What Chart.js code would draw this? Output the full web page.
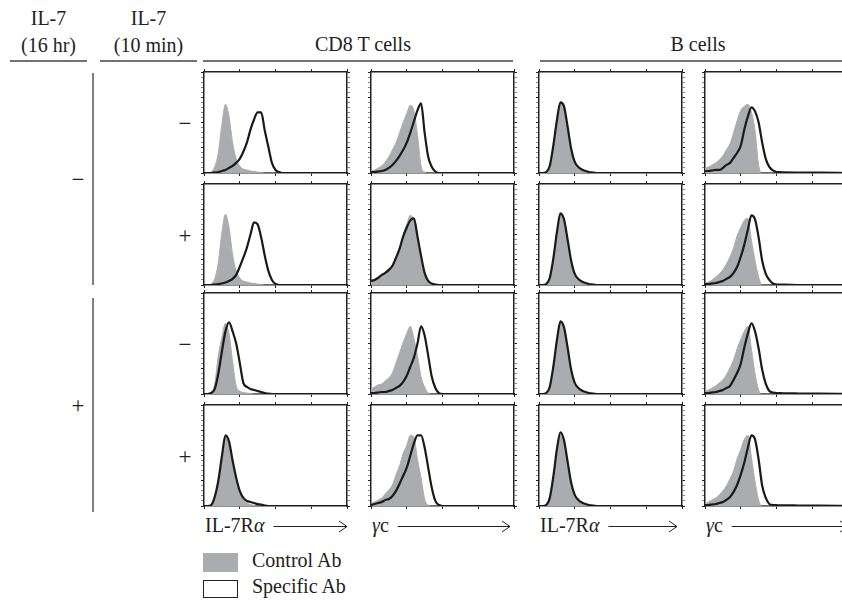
<!DOCTYPE html>
<html>
<head>
<meta charset="utf-8">
<script src="https://cdn.jsdelivr.net/npm/chart.js@4.4.1/dist/chart.umd.min.js"></script>
<style>
  html, body { margin: 0; padding: 0; background: #fff; }
  body { width: 842px; height: 604px; position: relative; overflow: hidden; font-family: "Liberation Serif", "DejaVu Serif", serif; }
  canvas.panel { position: absolute; }
  svg { position: absolute; left: 0; top: 0; }
  svg text { font-family: "Liberation Serif", "DejaVu Serif", serif; font-size: 20px; fill: #222; }
  svg text.sign { font-size: 23px; }
</style>
</head>
<body>
<svg id="labels" width="842" height="604"></svg>

<script>
// fluorescence bins (% of the axis) shared by every histogram
var bins = [0,2.5,5,7.5,10,12.5,15,17.5,20,22.5,25,27.5,30,32.5,35,37.5,40,42.5,45,47.5,50,52.5,55,65,80,100];

// row conditions
var il7Long  = ['−','−','+','+'];   // IL-7 (16 hr)
var il7Short = ['−','+','−','+'];   // IL-7 (10 min)

// CD8 T cells, IL-7Rα (one array per row)
var cd8RaControl = [
  [0,0,1,6,20,48,68,56,30,14,7,4,3,2,1.5,1,0.5,0,0,0,0,0,0,0,0,0],
  [0,0,1,6,22,52,70,57,30,14,7,4,3,2,1.5,1,0.5,0,0,0,0,0,0,0,0,0],
  [0,0,1,10,38,56,70,60,32,8,3,1.5,1,0.5,0,0,0,0,0,0,0,0,0,0,0,0],
  [0,0,1,8,24,48,68,62,42,26,13,6,3,1.5,0.5,0,0,0,0,0,0,0,0,0,0,0]
];
var cd8RaSpecific = [
  [0,0,0,0.5,1,2,3,5,7,10,14,21,30,43,53,60,60,42,26,10,3,1,0,0,0,0],
  [0,0,0,0.5,1,1.5,2.5,4,6,10,18,27,37,50,62,60,47,29,14,5,1,0,0,0,0,0],
  [0,0,1,5,20,42,62,71,62,50,31,11,7,5,4,3,2,1,0.3,0,0,0,0,0,0,0],
  [0,0,1,9,25,49,70,64,45,28,15,8,5,4,3,2,1.5,0.5,0,0,0,0,0,0,0,0]
];

// CD8 T cells, γc
var cd8GcControl = [
  [2,3,5,7,11,16,23,30,40,50,59,67,62,38,7,1,0,0,0,0,0,0,0,0,0,0],
  [4,6,8,10,13,16,20,28,37,50,60,69,64,48,28,12,4,1,0,0,0,0,0,0,0,0],
  [5,7,9,10,13,16,21,31,41,51,60,67,55,38,17,7,1,0,0,0,0,0,0,0,0,0],
  [3,4,6,8,12,16,21,31,40,52,60,70,68,46,28,7,1,0,0,0,0,0,0,0,0,0]
];
var cd8GcSpecific = [
  [1,1,1.5,2,3,5,8,12,17,23,30,40,51,62,69,40,16,6,1.5,0,0,0,0,0,0,0],
  [4,5,7,10,12,15,19,27,36,48,57,64,66,48,29,12,4,1.5,0.5,0,0,0,0,0,0,0],
  [1,1,1.5,2,2,3,4,6,8,12,18,27,36,50,67,58,38,17,6,1,0,0,0,0,0,0],
  [1,2,3,4,6,7,10,15,22,30,38,50,62,70,70,58,38,18,5,1,0,0,0,0,0,0]
];

// B cells, IL-7Rα
var bRaControl = [
  [0,0,1,6,26,50,69,64,44,22,10,5,3,1.5,0.5,0,0,0,0,0,0,0,0,0,0,0],
  [0,0,1,6,25,50,70,63,43,22,10,5,3,1.5,0.5,0,0,0,0,0,0,0,0,0,0,0],
  [0,0,1,6,26,52,71,64,44,22,10,5,3,1.5,0.5,0,0,0,0,0,0,0,0,0,0,0],
  [0,0,1,7,28,55,72,63,42,21,10,5,3,1.5,0.5,0,0,0,0,0,0,0,0,0,0,0]
];
var bRaSpecific = [
  [0,0,1,7,27,52,70,66,46,24,11,6,3.5,2,1,0.5,0,0,0,0,0,0,0,0,0,0],
  [0,0,1,7,26,52,71,65,45,24,11,6,3.5,2,1,0.5,0,0,0,0,0,0,0,0,0,0],
  [0,0,1,7,27,53,72,66,46,24,11,6,3.5,2,1,0.5,0,0,0,0,0,0,0,0,0,0],
  [0,0,1,8,29,56,73,65,44,23,11,6,3.5,2,1,0.5,0,0,0,0,0,0,0,0,0,0]
];

// B cells, γc
var bGcControl = [
  [5,6,8,10,13,17,23,29,40,52,62,66,68,60,42,8,0,0,0,0,0,0,0,0,0,0],
  [2,3,5,8,11,15,21,28,37,49,57,64,66,44,24,8,0,0,0,0,0,0,0,0,0,0],
  [3,4,6,8,11,14,19,26,34,45,54,62,67,44,20,4,0,0,0,0,0,0,0,0,0,0],
  [2,4,6,8,11,15,20,27,35,47,56,66,70,48,24,6,0,0,0,0,0,0,0,0,0,0]
];
var bGcSpecific = [
  [2,2,2.5,3,3,5,8,10,15,20,27,43,56,65,61,50,30,14,6,2.5,1,0.8,0.6,0.4,0.3,0],
  [1,1,1.5,2,3,4,6,8,12,18,28,40,55,69,65,47,24,11,5,1.5,0.5,0.3,0.3,0,0,0],
  [1,1,1.5,2,3,4,6,8,14,21,30,46,60,70,62,45,24,10,3,1.5,1,0.8,0.7,0.5,0.3,0.2],
  [1,1,1.5,2,3,4,6,9,14,21,31,43,58,70,66,46,20,8,2,1,0.8,0.6,0.6,0.5,0.3,0.2]
];

var columns = [
  { control: cd8RaControl, specific: cd8RaSpecific, marker: 'IL-7Rα' },
  { control: cd8GcControl, specific: cd8GcSpecific, marker: 'γc' },
  { control: bRaControl,   specific: bRaSpecific,   marker: 'IL-7Rα' },
  { control: bGcControl,   specific: bGcSpecific,   marker: 'γc' }
];

// panel grid
var panelLeft = [204, 371, 539, 705];
var panelTop  = [72, 184, 293, 405];
var panelW = 143, panelH = 101, edge = 4;

var controlGrey = '#abacb0';
var lineBlack = '#1a1a1a';

function frameAxis(pos, step) {
  return {
    type: 'linear', position: pos, min: 0, max: 100,
    ticks: { display: false, stepSize: step },
    grid: {
      drawOnChartArea: false, drawTicks: true, tickLength: 3, tickWidth: 1,
      tickColor: function (ctx) { return ctx.tick && ctx.tick.value % 25 === 0 ? '#222' : '#888'; }
    },
    border: { display: true, color: '#222', width: 1.5 },
    afterFit: function (s) { if (s.isHorizontal()) s.height = edge; else s.width = edge; }
  };
}

function points(vals) {
  return bins.map(function (b, i) { return { x: b, y: vals[i] }; });
}

function drawPanel(col, row) {
  var c = document.createElement('canvas');
  c.className = 'panel';
  c.width = panelW + 2 * edge;
  c.height = panelH + 2 * edge;
  c.style.left = (panelLeft[col] - edge) + 'px';
  c.style.top = (panelTop[row] - edge) + 'px';
  document.body.appendChild(c);

  new Chart(c, {
    type: 'line',
    data: {
      datasets: [{
        data: points(columns[col].specific[row]),
        borderColor: lineBlack, borderWidth: 2.2, fill: false, order: 0,
        pointRadius: 0, cubicInterpolationMode: 'monotone'
      }, {
        data: points(columns[col].control[row]),
        borderColor: controlGrey, backgroundColor: controlGrey, borderWidth: 1,
        fill: 'origin', order: 1, pointRadius: 0, cubicInterpolationMode: 'monotone'
      }]
    },
    options: {
      responsive: false, animation: false, events: [],
      layout: { padding: 0 },
      plugins: { legend: { display: false }, tooltip: { enabled: false } },
      scales: {
        x: frameAxis('bottom', 25),
        x2: frameAxis('top', 25),
        y: frameAxis('left', 5),
        y2: frameAxis('right', 5)
      }
    }
  });
}

for (var r = 0; r < 4; r++) {
  for (var k = 0; k < 4; k++) drawPanel(k, r);
}

// headers, row conditions, axis markers and key
var svg = document.getElementById('labels');
function el(tag, attrs, text) {
  var n = document.createElementNS('http://www.w3.org/2000/svg', tag);
  for (var a in attrs) n.setAttribute(a, attrs[a]);
  if (text) n.textContent = text;
  svg.appendChild(n);
  return n;
}
function line(x1, y1, x2, y2, w, col) {
  el('line', { x1: x1, y1: y1, x2: x2, y2: y2, stroke: col || '#444', 'stroke-width': w || 1.5 });
}

el('text', { x: 48.5, y: 25, 'text-anchor': 'middle' }, 'IL-7');
el('text', { x: 48.5, y: 52, 'text-anchor': 'middle' }, '(16 hr)');
el('text', { x: 148.5, y: 25, 'text-anchor': 'middle' }, 'IL-7');
el('text', { x: 148.5, y: 52, 'text-anchor': 'middle' }, '(10 min)');
el('text', { x: 363, y: 51, 'text-anchor': 'middle' }, 'CD8 T cells');
el('text', { x: 698, y: 51, 'text-anchor': 'middle' }, 'B cells');
line(10, 61, 87, 61);
line(100, 61, 197, 61);
line(203, 61, 513, 61);
line(540, 61, 842, 61);

// IL-7 (16 hr) brackets
line(93, 73, 93, 285, 1.5, '#555');
line(93, 298, 93, 512, 1.5, '#555');
el('text', { x: 78, y: 187, 'text-anchor': 'middle', 'class': 'sign' }, il7Long[0]);
el('text', { x: 78, y: 413, 'text-anchor': 'middle', 'class': 'sign' }, il7Long[2]);

// IL-7 (10 min) per row
for (var i = 0; i < 4; i++) {
  el('text', { x: 185, y: panelTop[i] + panelH / 2 + 8, 'text-anchor': 'middle', 'class': 'sign' }, il7Short[i]);
}

// axis markers with arrows
var arrowEnds = [347, 510, 677, 848];
columns.forEach(function (c, j) {
  var t = el('text', { x: panelLeft[j] + 1, y: 532 });
  if (c.marker === 'IL-7Rα') {
    t.appendChild(document.createTextNode('IL-7R'));
    var s = document.createElementNS('http://www.w3.org/2000/svg', 'tspan');
    s.setAttribute('font-style', 'italic');
    s.textContent = 'α';
    t.appendChild(s);
  } else {
    var g = document.createElementNS('http://www.w3.org/2000/svg', 'tspan');
    g.setAttribute('font-style', 'italic');
    g.textContent = 'γ';
    t.appendChild(g);
    t.appendChild(document.createTextNode('c'));
  }
  var start = panelLeft[j] + t.getComputedTextLength() + 10;
  var end = arrowEnds[j];
  line(start, 526.5, end, 526.5, 1, '#222');
  el('polyline', { points: (end - 8) + ',521 ' + end + ',526.5 ' + (end - 8) + ',532',
                   fill: 'none', stroke: '#222', 'stroke-width': 1 });
});

// key
el('rect', { x: 203, y: 553, width: 35, height: 19, fill: controlGrey });
el('text', { x: 252, y: 567 }, 'Control Ab');
el('rect', { x: 203.5, y: 580.5, width: 34, height: 17, fill: '#fff', stroke: '#222', 'stroke-width': 1 });
el('text', { x: 252, y: 593 }, 'Specific Ab');
</script>
</body>
</html>
